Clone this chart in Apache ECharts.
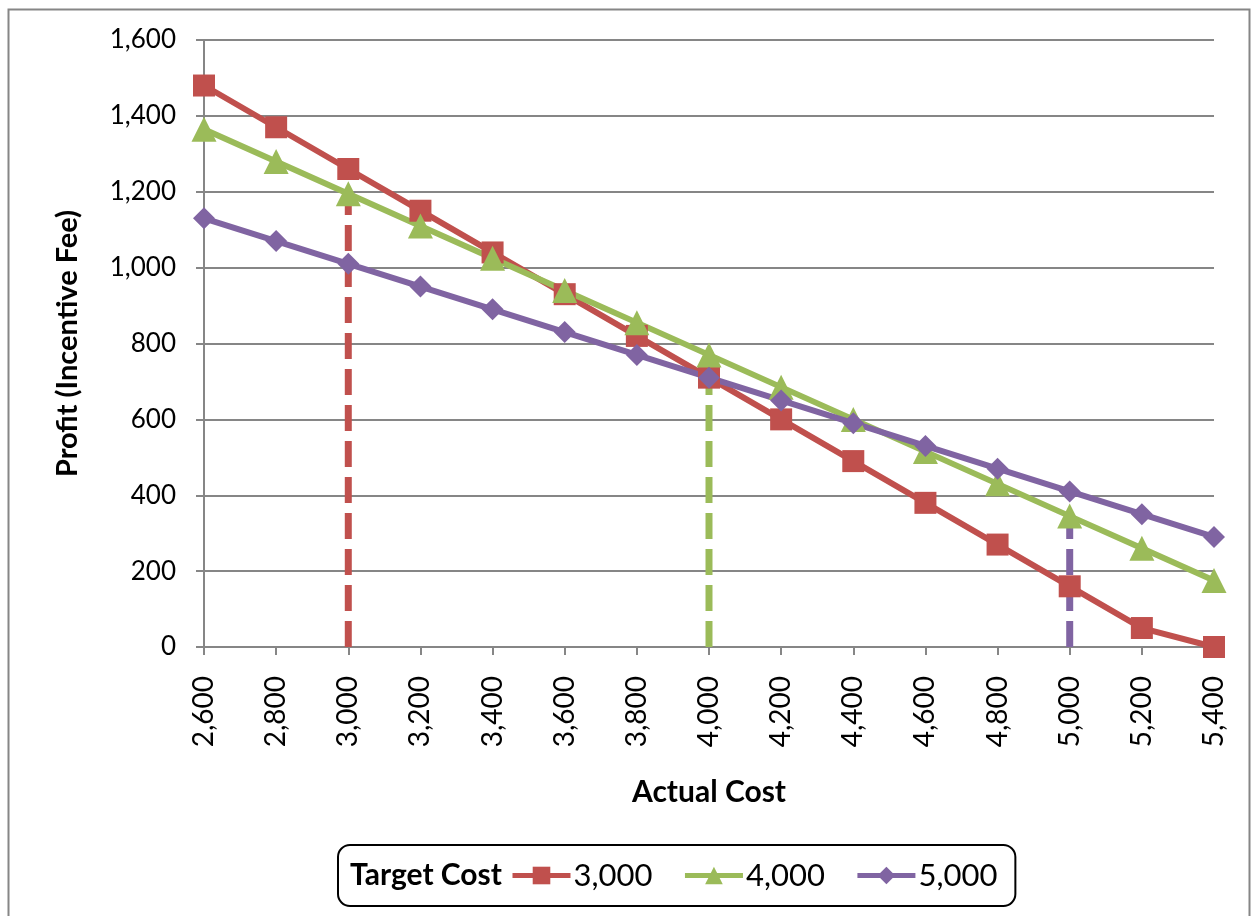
<!DOCTYPE html>
<html>
<head>
<meta charset="utf-8">
<script src="https://cdn.jsdelivr.net/npm/echarts@6/dist/echarts.min.js"></script>
<style>
  html, body { margin: 0; padding: 0; background: #fff; }
  #main { width: 1251px; height: 916px; }
</style>
</head>
<body>
<div id="main"></div>
<script>
// data
var actualCost = [2600, 2800, 3000, 3200, 3400, 3600, 3800, 4000, 4200, 4400, 4600, 4800, 5000, 5200, 5400];
var fee3000 = [1480, 1370, 1260, 1150, 1040, 930, 820, 710, 600, 490, 380, 270, 160, 50, 0];
var fee4000 = [1365, 1280, 1195, 1110, 1025, 940, 855, 770, 685, 600, 515, 430, 345, 260, 175];
var fee5000 = [1130, 1070, 1010, 950, 890, 830, 770, 710, 650, 590, 530, 470, 410, 350, 290];
var targetNames = ['3,000', '4,000', '5,000'];
var targetCosts = [3000, 4000, 5000];
var dropTops = [1230, 725, 350];
var colors = ['#C0504D', '#9BBB59', '#8064A2'];
var symbols = ['rect', 'triangle', 'diamond'];
var symbolSizes = [22, 25, 22];

var font = 'Lato, "Open Sans", sans-serif';

function fmt(v) {
    return String(v).replace(/\B(?=(\d{3})+(?!\d))/g, ',');
}

var myChart = echarts.init(document.getElementById('main'));

var series = [];
var feeData = [fee3000, fee4000, fee5000];
// dashed drop lines first so the markers sit on top
for (var i = 0; i < 3; i++) {
    var idx = actualCost.indexOf(targetCosts[i]);
    series.push({
        name: 'drop' + i,
        type: 'line',
        data: [[idx, 0], [idx, dropTops[i]]],
        symbol: 'none',
        silent: true,
        z: 1,
        lineStyle: { color: colors[i], width: 7, type: [26, 10] }
    });
}
for (var j = 0; j < 3; j++) {
    series.push({
        name: targetNames[j],
        type: 'line',
        data: feeData[j],
        symbol: symbols[j],
        symbolSize: symbolSizes[j],
        z: 3,
        itemStyle: { color: colors[j] },
        lineStyle: { color: colors[j], width: 6 }
    });
}

var option = {
    animation: false,
    textStyle: { fontFamily: font },
    grid: { left: 204, right: 37, top: 40, bottom: 269, containLabel: false },
    xAxis: {
        type: 'category',
        data: actualCost,
        boundaryGap: false,
        name: 'Actual Cost',
        nameLocation: 'middle',
        nameGap: 130,
        nameTextStyle: { fontSize: 30, fontWeight: 'bold', color: '#000', fontFamily: font },
        axisLine: { lineStyle: { color: '#868686', width: 2 } },
        axisTick: { show: true, length: 8, lineStyle: { color: '#868686', width: 2 }, alignWithLabel: true },
        axisLabel: {
            rotate: 90,
            margin: 29,
            fontSize: 28,
            color: '#000',
            fontFamily: font,
            formatter: function (v) { return fmt(v); }
        },
        splitLine: { show: false }
    },
    yAxis: {
        type: 'value',
        min: 0,
        max: 1600,
        interval: 200,
        name: 'Profit (Incentive Fee)',
        nameLocation: 'middle',
        nameGap: 122,
        nameRotate: 90,
        nameTextStyle: { fontSize: 29, fontWeight: 'bold', color: '#000', fontFamily: font },
        axisLine: { show: true, lineStyle: { color: '#868686', width: 2 } },
        axisTick: { show: true, length: 8, lineStyle: { color: '#868686', width: 2 } },
        axisLabel: {
            margin: 28,
            fontSize: 26,
            color: '#000',
            fontFamily: font,
            formatter: function (v) { return fmt(v); }
        },
        splitLine: { lineStyle: { color: '#868686', width: 2 } }
    },
    legend: {
        data: targetNames,
        left: 338,
        top: 845,
        orient: 'horizontal',
        itemWidth: 58,
        itemHeight: 22,
        itemGap: 30,
        padding: [15, 18, 15, 172],
        borderColor: '#000',
        borderWidth: 2,
        borderRadius: 12,
        lineStyle: { width: 5 },
        textStyle: { fontSize: 31, color: '#000', fontFamily: font, padding: [0, 0, 0, -2] }
    },
    graphic: [
        {
            type: 'rect',
            left: 6,
            top: 7,
            z: -10,
            shape: { width: 1241, height: 930 },
            style: { fill: 'none', stroke: '#868686', lineWidth: 2 }
        },
        {
            type: 'text',
            left: 350,
            top: 860,
            z: 10,
            style: { text: 'Target Cost', font: 'bold 30px ' + font, fill: '#000' }
        }
    ],
    series: series
};

myChart.setOption(option);
</script>
</body>
</html>
